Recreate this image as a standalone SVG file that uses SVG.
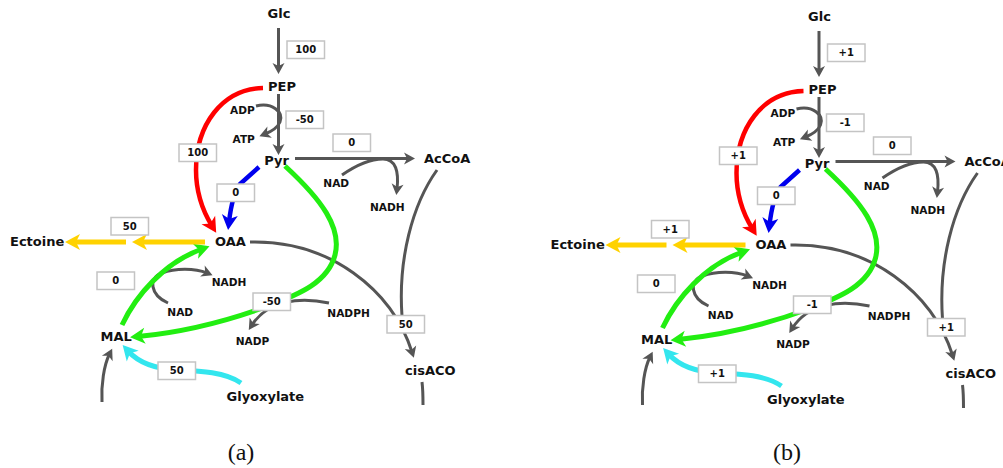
<svg xmlns="http://www.w3.org/2000/svg" width="1003" height="468" viewBox="0 0 1003 468">
  <style>
    .n { font-family: "DejaVu Sans", "Liberation Sans", sans-serif; font-weight: bold; font-size: 13px; fill: #111; }
    .c { font-family: "DejaVu Sans", "Liberation Sans", sans-serif; font-weight: bold; font-size: 10.6px; fill: #111; }
    .flux rect { fill: #fff; stroke: #c4c4c4; stroke-width: 1.5; }
    .flux text { font-family: "DejaVu Sans", "Liberation Sans", sans-serif; font-weight: bold; font-size: 10px; fill: #111; text-anchor: middle; }
    .gr { fill: none; stroke: #555; stroke-width: 3; }
    .red { fill: none; stroke: #ff0000; stroke-width: 4.5; }
    .blu { fill: none; stroke: #0000ee; stroke-width: 4.5; }
    .grn { fill: none; stroke: #22ee11; stroke-width: 5; }
    .yel { fill: none; stroke: #ffd200; stroke-width: 5; }
    .cya { fill: none; stroke: #33e6ee; stroke-width: 5; }
    .cap { font-family: "Liberation Serif", "DejaVu Serif", serif; font-size: 24px; fill: #111; text-anchor: middle; }
  </style>
  <defs>
    <marker id="ahGr" markerUnits="userSpaceOnUse" orient="auto" refX="5" refY="0" markerWidth="12" markerHeight="12" overflow="visible">
      <path d="M0,-6 L11,0 L0,6 L3,0 z" fill="#555"/>
    </marker>
    <marker id="ahRed" markerUnits="userSpaceOnUse" orient="auto" refX="7" refY="0" markerWidth="16" markerHeight="16" overflow="visible">
      <path d="M0,-8 L15,0 L0,8 L4,0 z" fill="#ff0000"/>
    </marker>
    <marker id="ahBlu" markerUnits="userSpaceOnUse" orient="auto" refX="7" refY="0" markerWidth="16" markerHeight="16" overflow="visible">
      <path d="M0,-8 L15,0 L0,8 L4,0 z" fill="#0000ee"/>
    </marker>
    <marker id="ahGrn" markerUnits="userSpaceOnUse" orient="auto" refX="7" refY="0" markerWidth="16" markerHeight="16" overflow="visible">
      <path d="M0,-8 L15,0 L0,8 L4,0 z" fill="#22ee11"/>
    </marker>
    <marker id="ahYel" markerUnits="userSpaceOnUse" orient="auto" refX="7" refY="0" markerWidth="16" markerHeight="16" overflow="visible">
      <path d="M0,-8 L15,0 L0,8 L4,0 z" fill="#ffd200"/>
    </marker>
    <marker id="ahCya" markerUnits="userSpaceOnUse" orient="auto" refX="7" refY="0" markerWidth="16" markerHeight="16" overflow="visible">
      <path d="M0,-8 L15,0 L0,8 L4,0 z" fill="#33e6ee"/>
    </marker>
  </defs>
  <rect width="1003" height="468" fill="#fff"/>

  <!-- ===== Panel (a): flux values ===== -->
  <g id="panel-a">
    <g id="a-connectors">
      <path class="gr" d="M278.5,28 V68" marker-end="url(#ahGr)"/>
      <path class="gr" d="M278.5,94 V149" marker-end="url(#ahGr)"/>
      <path class="gr" d="M256,106 C272,102 284,112 280,122 C277,129 270,132 265,134" marker-end="url(#ahGr)"/>
      <path class="gr" d="M295,158.5 H409" marker-end="url(#ahGr)"/>
      <path class="gr" d="M342,175 C355,166 368,159 383,159 C396,159 399,172 397,189" marker-end="url(#ahGr)"/>
      <path class="gr" d="M437,170 C412,205 398,260 402,316"/>
      <path class="gr" d="M250,242 C330,240 392,290 412,352" marker-end="url(#ahGr)"/>
      <path class="gr" d="M422,382 C423,390 423,397 423,405"/>
      <path class="gr" d="M102,402 C101,385 104,365 109.5,354" marker-end="url(#ahGr)"/>
      <path class="gr" d="M168,303 C150,295 148,278 162,273 C175,268 195,268 207,273" marker-end="url(#ahGr)"/>
      <path class="gr" d="M329,303 C300,297 268,300 252,325" marker-end="url(#ahGr)"/>
      <path class="red" d="M263,88 C222,89 196,125 196,170 C196,196 204,213 212,226" marker-end="url(#ahRed)"/>
      <path class="blu" d="M259,167 L240,184 C234,192 231,205 229,222" marker-end="url(#ahBlu)"/>
      <path class="grn" d="M285,166 C322,200 342,228 335,255 C328,282 300,294 268,306 C230,320 185,332 138,336.5" marker-end="url(#ahGrn)"/>
      <path class="grn" d="M122,325 C136,295 165,262 202,249" marker-end="url(#ahGrn)"/>
      <path class="yel" d="M205,242 H140" marker-end="url(#ahYel)"/>
      <path class="yel" d="M126,242 H73" marker-end="url(#ahYel)"/>
      <path class="cya" d="M241,383 C225,372 200,371 178,370 C155,369 138,362 128,351" marker-end="url(#ahCya)"/>
    </g>
    <g id="a-nodes">
      <g id="a-Glc"><text class="n" x="279" y="18" text-anchor="middle">Glc</text></g>
      <g id="a-PEP"><text class="n" x="282" y="91" text-anchor="middle">PEP</text></g>
      <g id="a-Pyr"><text class="n" x="276.5" y="165" text-anchor="middle">Pyr</text></g>
      <g id="a-AcCoA"><text class="n" x="424" y="163">AcCoA</text></g>
      <g id="a-OAA"><text class="n" x="215" y="246">OAA</text></g>
      <g id="a-Ectoine"><text class="n" x="10" y="246">Ectoine</text></g>
      <g id="a-MAL"><text class="n" x="100.5" y="341">MAL</text></g>
      <g id="a-Glyoxylate"><text class="n" x="226.5" y="401">Glyoxylate</text></g>
      <g id="a-cisACO"><text class="n" x="405" y="375">cisACO</text></g>
      <g id="a-ADP"><text class="c" x="230" y="114">ADP</text></g>
      <g id="a-ATP"><text class="c" x="232.5" y="142.5">ATP</text></g>
      <g id="a-NAD1"><text class="c" x="323.3" y="187">NAD</text></g>
      <g id="a-NADH1"><text class="c" x="370" y="210.5">NADH</text></g>
      <g id="a-NADH2"><text class="c" x="211.7" y="286">NADH</text></g>
      <g id="a-NAD2"><text class="c" x="167.3" y="315.5">NAD</text></g>
      <g id="a-NADPH"><text class="c" x="327.3" y="317">NADPH</text></g>
      <g id="a-NADP"><text class="c" x="235.7" y="345">NADP</text></g>
    </g>
    <g id="a-fluxes">
      <g class="flux"><rect x="287" y="41" width="37.5" height="17.5"/><text x="305.75" y="53.4">100</text></g>
      <g class="flux"><rect x="286" y="111" width="37.5" height="17.5"/><text x="304.75" y="123.4">-50</text></g>
      <g class="flux"><rect x="333" y="134" width="37.5" height="17.5"/><text x="351.75" y="146.4">0</text></g>
      <g class="flux"><rect x="179" y="144" width="37.5" height="17.5"/><text x="197.75" y="156.4">100</text></g>
      <g class="flux"><rect x="217" y="184" width="37.5" height="17.5"/><text x="235.75" y="196.4">0</text></g>
      <g class="flux"><rect x="111" y="217.5" width="37.5" height="17.5"/><text x="129.75" y="229.9">50</text></g>
      <g class="flux"><rect x="97" y="272" width="37.5" height="17.5"/><text x="115.75" y="284.4">0</text></g>
      <g class="flux"><rect x="253" y="293" width="37.5" height="17.5"/><text x="271.75" y="305.4">-50</text></g>
      <g class="flux"><rect x="158" y="362" width="37.5" height="17.5"/><text x="176.75" y="374.4">50</text></g>
      <g class="flux"><rect x="387" y="315.5" width="37.5" height="17.5"/><text x="405.75" y="327.9">50</text></g>
    </g>
    <text class="cap" x="241" y="460">(a)</text>
  </g>

  <!-- ===== Panel (b): relative changes ===== -->
  <g id="panel-b" transform="translate(540.5,3)">
    <g id="b-connectors">
      <path class="gr" d="M278.5,28 V68" marker-end="url(#ahGr)"/>
      <path class="gr" d="M278.5,94 V149" marker-end="url(#ahGr)"/>
      <path class="gr" d="M256,106 C272,102 284,112 280,122 C277,129 270,132 265,134" marker-end="url(#ahGr)"/>
      <path class="gr" d="M295,158.5 H409" marker-end="url(#ahGr)"/>
      <path class="gr" d="M342,175 C355,166 368,159 383,159 C396,159 399,172 397,189" marker-end="url(#ahGr)"/>
      <path class="gr" d="M437,170 C412,205 398,260 402,316"/>
      <path class="gr" d="M250,242 C330,240 392,290 412,352" marker-end="url(#ahGr)"/>
      <path class="gr" d="M422,382 C423,390 423,397 423,405"/>
      <path class="gr" d="M102,402 C101,385 104,365 109.5,354" marker-end="url(#ahGr)"/>
      <path class="gr" d="M168,303 C150,295 148,278 162,273 C175,268 195,268 207,273" marker-end="url(#ahGr)"/>
      <path class="gr" d="M329,303 C300,297 268,300 252,325" marker-end="url(#ahGr)"/>
      <path class="red" d="M263,88 C222,89 196,125 196,170 C196,196 204,213 212,226" marker-end="url(#ahRed)"/>
      <path class="blu" d="M259,167 L240,184 C234,192 231,205 229,222" marker-end="url(#ahBlu)"/>
      <path class="grn" d="M285,166 C322,200 342,228 335,255 C328,282 300,294 268,306 C230,320 185,332 138,336.5" marker-end="url(#ahGrn)"/>
      <path class="grn" d="M122,325 C136,295 165,262 202,249" marker-end="url(#ahGrn)"/>
      <path class="yel" d="M205,242 H140" marker-end="url(#ahYel)"/>
      <path class="yel" d="M126,242 H73" marker-end="url(#ahYel)"/>
      <path class="cya" d="M241,383 C225,372 200,371 178,370 C155,369 138,362 128,351" marker-end="url(#ahCya)"/>
    </g>
    <g id="b-nodes">
      <g id="b-Glc"><text class="n" x="279" y="18" text-anchor="middle">Glc</text></g>
      <g id="b-PEP"><text class="n" x="282" y="91" text-anchor="middle">PEP</text></g>
      <g id="b-Pyr"><text class="n" x="276.5" y="165" text-anchor="middle">Pyr</text></g>
      <g id="b-AcCoA"><text class="n" x="424" y="163">AcCoA</text></g>
      <g id="b-OAA"><text class="n" x="215" y="246">OAA</text></g>
      <g id="b-Ectoine"><text class="n" x="10" y="246">Ectoine</text></g>
      <g id="b-MAL"><text class="n" x="100.5" y="341">MAL</text></g>
      <g id="b-Glyoxylate"><text class="n" x="226.5" y="401">Glyoxylate</text></g>
      <g id="b-cisACO"><text class="n" x="405" y="375">cisACO</text></g>
      <g id="b-ADP"><text class="c" x="230" y="114">ADP</text></g>
      <g id="b-ATP"><text class="c" x="232.5" y="142.5">ATP</text></g>
      <g id="b-NAD1"><text class="c" x="323.3" y="187">NAD</text></g>
      <g id="b-NADH1"><text class="c" x="370" y="210.5">NADH</text></g>
      <g id="b-NADH2"><text class="c" x="211.7" y="286">NADH</text></g>
      <g id="b-NAD2"><text class="c" x="167.3" y="315.5">NAD</text></g>
      <g id="b-NADPH"><text class="c" x="327.3" y="317">NADPH</text></g>
      <g id="b-NADP"><text class="c" x="235.7" y="345">NADP</text></g>
    </g>
    <g id="b-fluxes">
      <g class="flux"><rect x="287" y="41" width="37.5" height="17.5"/><text x="305.75" y="53.4">+1</text></g>
      <g class="flux"><rect x="286" y="111" width="37.5" height="17.5"/><text x="304.75" y="123.4">-1</text></g>
      <g class="flux"><rect x="333" y="134" width="37.5" height="17.5"/><text x="351.75" y="146.4">0</text></g>
      <g class="flux"><rect x="179" y="144" width="37.5" height="17.5"/><text x="197.75" y="156.4">+1</text></g>
      <g class="flux"><rect x="217" y="184" width="37.5" height="17.5"/><text x="235.75" y="196.4">0</text></g>
      <g class="flux"><rect x="111" y="217.5" width="37.5" height="17.5"/><text x="129.75" y="229.9">+1</text></g>
      <g class="flux"><rect x="97" y="272" width="37.5" height="17.5"/><text x="115.75" y="284.4">0</text></g>
      <g class="flux"><rect x="253" y="293" width="37.5" height="17.5"/><text x="271.75" y="305.4">-1</text></g>
      <g class="flux"><rect x="158" y="362" width="37.5" height="17.5"/><text x="176.75" y="374.4">+1</text></g>
      <g class="flux"><rect x="387" y="315.5" width="37.5" height="17.5"/><text x="405.75" y="327.9">+1</text></g>
    </g>
  </g>
  <text class="cap" x="787" y="460">(b)</text>
</svg>
